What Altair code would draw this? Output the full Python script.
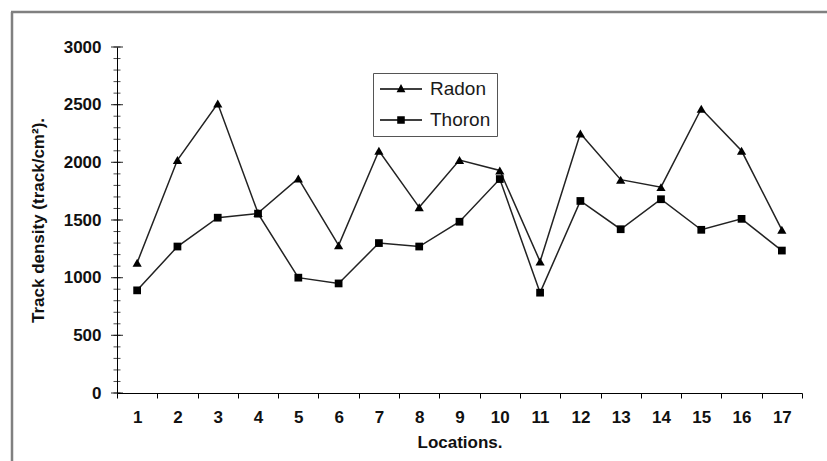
import altair as alt
import pandas as pd

locations = list(range(1, 18))
radon = [1130, 2020, 2510, 1560, 1860, 1280, 2100, 1610, 2020, 1930, 1140, 2250, 1850, 1785, 2465, 2100, 1415]
thoron = [890, 1270, 1520, 1555, 1000, 950, 1300, 1270, 1485, 1855, 870, 1665, 1420, 1680, 1415, 1510, 1235]
series_names = ["Radon", "Thoron"]
y_label_values = [0, 500, 1000, 1500, 2000, 2500, 3000]
y_minor_values = list(range(0, 3001, 100))

df = pd.DataFrame({
    "loc": locations * 2,
    "value": radon + thoron,
    "series": ["Radon"] * len(radon) + ["Thoron"] * len(thoron),
})

FONT = "Liberation Sans"

x_enc = alt.X(
    "loc:O",
    scale=alt.Scale(type="band", paddingInner=0, paddingOuter=0),
    bandPosition=0.5,
    axis=alt.Axis(
        title="Locations.", labelAngle=0, tickBand="extent", tickSize=5,
        labelPadding=11, labelFontSize=17, labelFontWeight="bold",
        titleFontSize=17, titleFontWeight="bold", titlePadding=9, grid=False,
    ),
)
y_enc = alt.Y(
    "value:Q",
    scale=alt.Scale(domain=[0, 3000], nice=False),
    axis=alt.Axis(
        values=y_label_values, format="d", ticks=False, grid=False,
        labelFontSize=17, labelFontWeight="bold", labelPadding=16,
        title="Track density (track/cm²).", titleFontSize=17,
        titleFontWeight="bold", titlePadding=16,
    ),
)

lines = alt.Chart(df).mark_line(color="#222", strokeWidth=1.5).encode(
    x=x_enc, y=y_enc, detail="series:N"
)

pt_radon = alt.Chart(df).transform_filter(alt.datum.series == "Radon").mark_point(
    shape="triangle-up", size=85, filled=True, color="black", opacity=1
).encode(x=x_enc, y=y_enc)
pt_thoron = alt.Chart(df).transform_filter(alt.datum.series == "Thoron").mark_point(
    shape="square", size=60, filled=True, color="black", opacity=1
).encode(x=x_enc, y=y_enc)

# legend glyphs: a thin filled bar (the line) plus the marker, in unit coordinates
tri_path = "M-1,-0.035H1V0.035H-1Z M0,-0.24L0.21,0.16L-0.21,0.16Z"
sq_path = "M-1,-0.035H1V0.035H-1Z M-0.18,-0.18H0.18V0.18H-0.18Z"

legend_layer = alt.Chart(df).transform_filter("false").mark_point(
    filled=True, color="black", opacity=1
).encode(
    x=x_enc, y=y_enc,
    shape=alt.Shape(
        "series:N",
        scale=alt.Scale(domain=series_names, range=[tri_path, sq_path]),
        legend=alt.Legend(
            title=None, orient="none", legendX=256, legendY=26,
            padding=6, strokeColor="#555", symbolSize=1764, clipHeight=20,
            rowPadding=11, labelOffset=7, labelFont=FONT, labelFontSize=19,
            labelColor="#1a1a1a", symbolFillColor="#222", symbolOpacity=1,
        ),
    ),
)

minor_ticks = alt.Chart(pd.DataFrame({"value": y_minor_values})).mark_tick(
    color="black", thickness=1, size=7
).encode(y=alt.Y("value:Q"), x=alt.value(0))
major_ticks = alt.Chart(pd.DataFrame({"value": y_label_values})).mark_tick(
    color="black", thickness=1.2, size=12
).encode(y=alt.Y("value:Q"), x=alt.value(0))

frame_left = alt.Chart(pd.DataFrame({"k": [0]})).mark_rule(
    color="#808080", strokeWidth=2.5
).encode(x=alt.value(-105), y=alt.value(-35), y2=alt.value(420))
frame_top = alt.Chart(pd.DataFrame({"k": [0]})).mark_rule(
    color="#808080", strokeWidth=2.5
).encode(y=alt.value(-35), x=alt.value(-106), x2=alt.value(712))

chart = alt.layer(
    frame_left, frame_top, lines, pt_radon, pt_thoron, minor_ticks, major_ticks, legend_layer
).properties(
    width=685, height=346,
    autosize=alt.AutoSizeParams(type="none"),
    padding={"left": 117, "top": 47, "right": 25, "bottom": 68},
).configure_view(stroke=None).configure_axis(
    labelFont=FONT, titleFont=FONT, labelColor="#111", titleColor="#111",
    domainColor="black", tickColor="black", domainWidth=1,
)

chart.save("out.html", embed_options={"renderer": "svg", "actions": False})
